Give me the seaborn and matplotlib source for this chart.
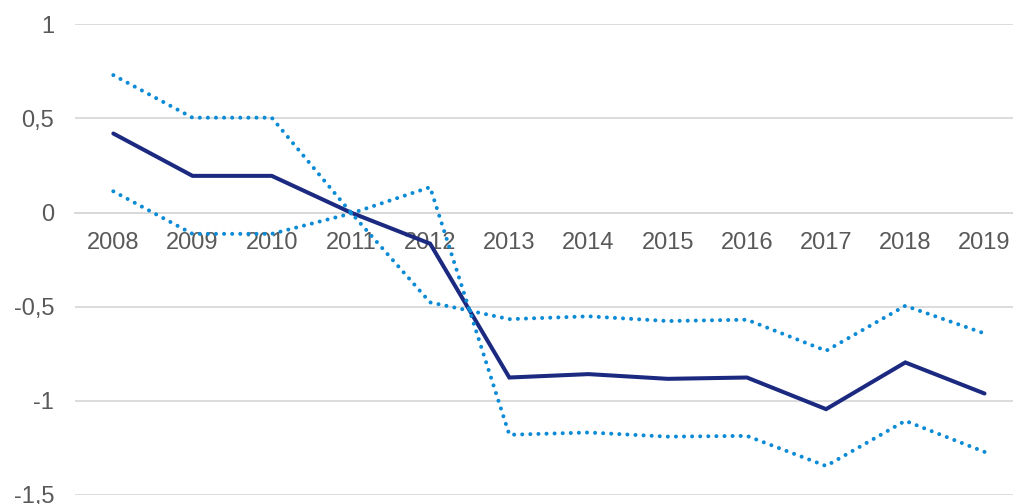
import matplotlib
matplotlib.use("Agg")
import matplotlib.pyplot as plt
import seaborn as sns
import pandas as pd

# Annual series: central estimate with upper/lower bounds
years = ["2008", "2009", "2010", "2011", "2012", "2013",
         "2014", "2015", "2016", "2017", "2018", "2019"]
central = [0.42, 0.195, 0.195, 0.0, -0.165, -0.876,
           -0.858, -0.883, -0.876, -1.044, -0.796, -0.961]
upper = [0.73, 0.504, 0.504, 0.0, -0.477, -0.566,
         -0.551, -0.576, -0.569, -0.734, -0.495, -0.642]
lower = [0.113, -0.113, -0.113, -0.005, 0.135, -1.18,
         -1.168, -1.19, -1.186, -1.346, -1.106, -1.271]

y_ticks = [1, 0.5, 0, -0.5, -1, -1.5]
y_labels = ["1", "0,5", "0", "-0,5", "-1", "-1,5"]

sns.set_style("white")
plt.rcParams["font.family"] = ["Liberation Sans", "DejaVu Sans"]

NAVY = "#1b2a80"
BLUE = "#0b8ad6"
GRID = "#d9d9d9"
TEXT = "#595959"

df = pd.DataFrame({"year": years, "central": central,
                   "upper": upper, "lower": lower})
df["pos"] = range(len(years))

W, H = 1013, 504
fig = plt.figure(figsize=(W / 100, H / 100), dpi=100)
ax = fig.add_axes([75 / W, (H - 495) / H, (W - 75) / W, (495 - 24.3) / H])

sns.lineplot(data=df, x="pos", y="central", ax=ax, color=NAVY,
             linewidth=2.9, solid_joinstyle="miter", zorder=3)
for col in ["upper", "lower"]:
    sns.lineplot(data=df, x="pos", y=col, ax=ax, color=BLUE,
                 linewidth=2.9, linestyle=(0, (0.01, 2.0)),
                 dash_capstyle="round", zorder=4)

ax.set_xlim(-0.484, 11.36)
ax.set_ylim(-1.5, 1)

ax.set_yticks(y_ticks)
ax.set_yticklabels(y_labels)
ax.yaxis.grid(True, color=GRID, linewidth=1.3)
ax.set_axisbelow(True)

ax.set_xticks(df["pos"])
ax.set_xticklabels(years)

for side in ["top", "right", "left"]:
    ax.spines[side].set_visible(False)
ax.spines["bottom"].set_position(("data", 0))
ax.spines["bottom"].set_color(GRID)
ax.spines["bottom"].set_linewidth(1.3)

ax.tick_params(axis="x", direction="out", length=4, width=1.3, color=GRID,
               pad=10, labelsize=17, labelcolor=TEXT)
ax.tick_params(axis="y", length=0, pad=15, labelsize=17, labelcolor=TEXT)

ax.set_xlabel("")
ax.set_ylabel("")

fig.savefig("out.png", dpi=100)
